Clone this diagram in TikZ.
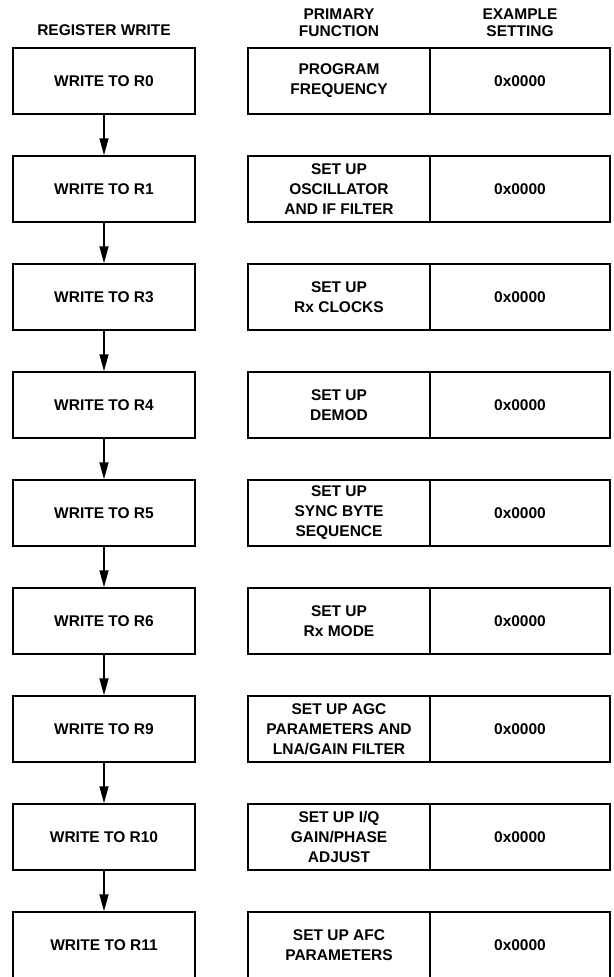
\documentclass[tikz,border=0pt]{standalone}
\usepackage{fontspec}
\setmainfont{Liberation Sans}
\usetikzlibrary{arrows.meta}
\begin{document}
\begin{tikzpicture}[x=1pt,y=-1pt,
  every node/.style={font=\fontsize{15.5}{20}\selectfont\bfseries, align=center, inner sep=0pt},
  regbox/.style={draw, line width=1.5pt, minimum width=182pt, minimum height=66pt},
  funcbox/.style={draw, line width=1.5pt, minimum width=182pt, minimum height=66pt},
  setbox/.style={draw, line width=1.5pt, minimum width=180pt, minimum height=66pt},
  hdr/.style={font=\fontsize{15.5}{16.7}\selectfont\bfseries},
  flow/.style={line width=1.5pt, -{Triangle[length=17pt,width=9pt]}}
]
\useasboundingbox (0,0) rectangle (613,977);
\node[hdr] (h1) at (104,30.5) {REGISTER WRITE};
\node[hdr] (h2) at (339,23) {PRIMARY\\FUNCTION};
\node[hdr] (h3) at (520,23) {EXAMPLE\\SETTING};
\foreach \i/\r/\f in {0/R0/{PROGRAM\\FREQUENCY},
  1/R1/{SET UP\\OSCILLATOR\\AND IF FILTER},
  2/R3/{SET UP\\Rx CLOCKS},
  3/R4/{SET UP\\DEMOD},
  4/R5/{SET UP\\SYNC BYTE\\SEQUENCE},
  5/R6/{SET UP\\Rx MODE},
  6/R9/{SET UP AGC\\PARAMETERS AND\\LNA/GAIN FILTER},
  7/R10/{SET UP I/Q\\GAIN/PHASE\\ADJUST},
  8/R11/{SET UP AFC\\PARAMETERS}} {
  \node[regbox] (w\i) at (104,81+108*\i) {WRITE TO \r};
  \node[funcbox] (f\i) at (339,81+108*\i) {\f};
  \node[setbox] (s\i) at (520,81+108*\i) {0x0000};
}
\foreach \i [evaluate=\i as \j using int(\i+1)] in {0,...,7} {
  \draw[flow] (w\i.south) -- (w\j.north);
}
\end{tikzpicture}
\end{document}
